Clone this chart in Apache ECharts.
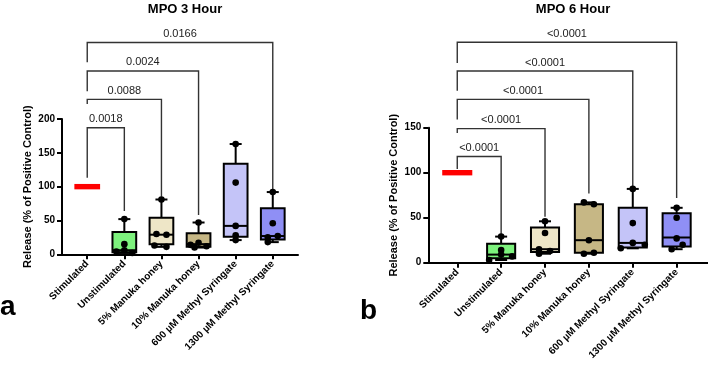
<!DOCTYPE html>
<html>
<head>
<meta charset="utf-8">
<script src="https://cdn.jsdelivr.net/npm/echarts@6/dist/echarts.min.js"></script>
<style>
html,body{margin:0;padding:0;background:#fff;}
#c{width:708px;height:366px;}
</style>
</head>
<body>
<div id="c"></div>
<script>
// ---------- data ----------
const categories = ['Stimulated', 'Unstimulated', '5% Manuka honey', '10% Manuka honey', '600 µM Methyl Syringate', '1300 µM Methyl Syringate'];

// box stats: [min, Q1, median, Q3, max]
const box3h = [
  [100, 100, 100, 100, 100],
  [2, 3, 6, 33, 52],
  [11, 15, 29, 54, 81],
  [10, 11, 15, 31, 47],
  [21, 26, 42, 134, 163],
  [18, 22, 27, 68, 92]
];
const box6h = [
  [100, 100, 100, 100, 100],
  [3, 5, 9, 21, 29],
  [10, 12, 15, 39, 46],
  [10, 11, 25, 65, 67],
  [16, 17, 22, 61, 82],
  [15, 18, 28, 55, 61]
];

// individual points
const pts3h = [
  [],
  [52, 15, 6, 4, 2],
  [81, 30, 29, 13, 11],
  [47, 17, 14, 12, 10],
  [163, 106, 42, 28, 21],
  [92, 46, 27, 25, 18]
];
const pts6h = [
  [],
  [29, 14, 9, 7, 3],
  [46, 33, 15, 13, 10],
  [67, 65, 25, 11, 10],
  [82, 44, 22, 20, 16],
  [61, 50, 27, 20, 15]
];

// significance brackets: [fromIndex, toIndex, barLevel, leftLegEnd, rightLegEnd]
const brackets3h = [[0, 1, 187, 113, 64], [0, 2, 229, 222, 85], [0, 3, 271, 241, 58], [0, 5, 313, 284, 95]];
const pLabels3h = ['0.0018', '0.0088', '0.0024', '0.0166'];
const brackets6h = [[0, 1, 118, 104, 31], [0, 2, 149, 144, 51], [0, 3, 181.5, 159, 77], [0, 4, 213, 191, 84], [0, 5, 245, 222, 72]];
const pLabels6h = ['<0.0001', '<0.0001', '<0.0001', '<0.0001', '<0.0001'];

const yTicks3h = [0, 50, 100, 150, 200];
const yTicks6h = [0, 50, 100, 150];

// ---------- styles (not data) ----------
const boxColors = ['#FF0000', '#7DF27D', '#EEE6C7', '#C6B785', '#C4C4F8', '#8F8FF5'];
const jitter3h = [[], [0, 0, 0, -8, 8], [0, -5, 5, -7, 5], [0, 0, -8, 8, -4], [0, 0, 0, 0, 0], [0, 0, 5, -5, -5]];
const jitter6h = [[], [0, 0, 0, 11, -12], [0, 0, -6, 5, -6], [-5, 5, 0, 5, -5], [0, 0, 0, 12, -12], [0, 0, 0, 6, -5]];
const FONT = 'Liberation Sans, Arial, Helvetica, sans-serif';

function boxSeries(idx, boxes, pts, jit, stepPx) {
  return [{
    type: 'custom', xAxisIndex: idx, yAxisIndex: idx, clip: false,
    data: boxes.map((b, i) => [i].concat(b)),
    renderItem: function (params, api) {
      const i = api.value(0);
      const c = api.coord([i, api.value(3)]);
      const x = c[0];
      const halfW = stepPx * 0.32;
      const yMin = api.coord([i, api.value(1)])[1];
      const yQ1 = api.coord([i, api.value(2)])[1];
      const yMed = c[1];
      const yQ3 = api.coord([i, api.value(4)])[1];
      const yMax = api.coord([i, api.value(5)])[1];
      if (api.value(1) === api.value(5)) {
        return { type: 'rect', shape: { x: x - halfW - 1, y: yMed - 2.7, width: 2 * halfW + 2, height: 5.4 }, style: { fill: boxColors[i] } };
      }
      const ls = { stroke: '#000', lineWidth: 2, fill: null };
      const cap = 6;
      return {
        type: 'group', children: [
          { type: 'line', shape: { x1: x, y1: yQ3, x2: x, y2: yMax }, style: ls },
          { type: 'line', shape: { x1: x, y1: yQ1, x2: x, y2: yMin }, style: ls },
          { type: 'line', shape: { x1: x - cap, y1: yMax, x2: x + cap, y2: yMax }, style: ls },
          { type: 'line', shape: { x1: x - cap, y1: yMin, x2: x + cap, y2: yMin }, style: ls },
          { type: 'rect', shape: { x: x - halfW, y: yQ3, width: 2 * halfW, height: yQ1 - yQ3 }, style: { fill: boxColors[i], stroke: '#000', lineWidth: 2 } },
          { type: 'line', shape: { x1: x - halfW, y1: yMed, x2: x + halfW, y2: yMed }, style: ls }
        ]
      };
    }
  }, {
    type: 'custom', xAxisIndex: idx, yAxisIndex: idx, clip: false,
    data: pts.flatMap((arr, i) => arr.map((v, k) => [i, v, k])),
    renderItem: function (params, api) {
      const i = api.value(0), k = api.value(2);
      const p = api.coord([i, api.value(1)]);
      return { type: 'circle', shape: { cx: p[0] + jit[i][k], cy: p[1], r: 3.3 }, style: { fill: '#000' } };
    }
  }];
}

function bracketSeries(idx, brs, labels) {
  return {
    type: 'custom', xAxisIndex: idx, yAxisIndex: idx, clip: false,
    data: brs.map((b, j) => b.concat([j])),
    renderItem: function (params, api) {
      const a = api.value(0), b = api.value(1);
      const pTop = api.coord([a, api.value(2)]);
      const pL = api.coord([a, api.value(3)]);
      const pR = api.coord([b, api.value(4)]);
      const xa = pTop[0], xb = pR[0], yt = pTop[1];
      return {
        type: 'group', children: [
          { type: 'polyline', shape: { points: [[xa, pL[1]], [xa, yt], [xb, yt], [xb, pR[1]]] }, style: { stroke: '#333', lineWidth: 1.4, fill: null } },
          { type: 'text', x: (xa + xb) / 2, y: yt - 3, style: { text: labels[api.value(5)], fontFamily: FONT, fontSize: 11, fill: '#222', align: 'center', verticalAlign: 'bottom' } }
        ]
      };
    }
  };
}

function xAxisDef(idx, min, max) {
  return {
    type: 'value', gridIndex: idx, min: min, max: max,
    splitLine: { show: false },
    axisLine: { show: true, onZero: false, lineStyle: { color: '#000', width: 2 } },
    axisTick: { show: true, length: 5, lineStyle: { color: '#000', width: 2 }, customValues: categories.map((_, i) => i) },
    axisLabel: {
      show: true, rotate: 45, margin: 8, customValues: categories.map((_, i) => i),
      formatter: v => categories[Math.round(v)] || '',
      color: '#000', fontFamily: FONT, fontSize: 10, fontWeight: 'bold'
    }
  };
}
function yAxisDef(idx, max, ticks) {
  return {
    type: 'value', gridIndex: idx, min: ticks[0], max: max, interval: ticks[1] - ticks[0],
    name: 'Release (% of Positive Control)', nameLocation: 'middle', nameGap: 29,
    nameTextStyle: { color: '#000', fontFamily: FONT, fontSize: 11, fontWeight: 'bold' },
    splitLine: { show: false },
    axisLine: { show: true, onZero: false, lineStyle: { color: '#000', width: 2 } },
    axisTick: { show: true, length: 5, lineStyle: { color: '#000', width: 2 } },
    axisLabel: { margin: 7, color: '#000', fontFamily: FONT, fontSize: 10, fontWeight: 'bold' }
  };
}

const chart = echarts.init(document.getElementById('c'), null, { renderer: 'canvas' });
const opt = {
  animation: false,
  backgroundColor: '#fff',
  title: [
    { text: 'MPO 3 Hour', left: 180, top: -2, textAlign: 'center', textStyle: { fontFamily: FONT, fontSize: 13, fontWeight: 'bold', color: '#000' } },
    { text: 'MPO 6 Hour', left: 568, top: -2, textAlign: 'center', textStyle: { fontFamily: FONT, fontSize: 13, fontWeight: 'bold', color: '#000' } }
  ],
  grid: [
    { left: 62, top: 119, width: 236, height: 135.3 },
    { left: 428.3, top: 127.7, width: 279.5, height: 135 }
  ],
  xAxis: [xAxisDef(0, -0.68, 5.68), xAxisDef(1, -0.66, 5.71)],
  yAxis: [yAxisDef(0, 200, yTicks3h), yAxisDef(1, 150, yTicks6h)],
  graphic: [
    { type: 'text', left: 0, top: 293, style: { text: 'a', fontFamily: FONT, fontSize: 28, fontWeight: 'bold', fill: '#000' } },
    { type: 'text', left: 360, top: 297, style: { text: 'b', fontFamily: FONT, fontSize: 28, fontWeight: 'bold', fill: '#000' } }
  ],
  series: [].concat(
    [bracketSeries(0, brackets3h, pLabels3h), bracketSeries(1, brackets6h, pLabels6h)],
    boxSeries(0, box3h, pts3h, jitter3h, 37.08),
    boxSeries(1, box6h, pts6h, jitter6h, 43.88)
  )
};
chart.setOption(opt);
</script>
</body>
</html>
